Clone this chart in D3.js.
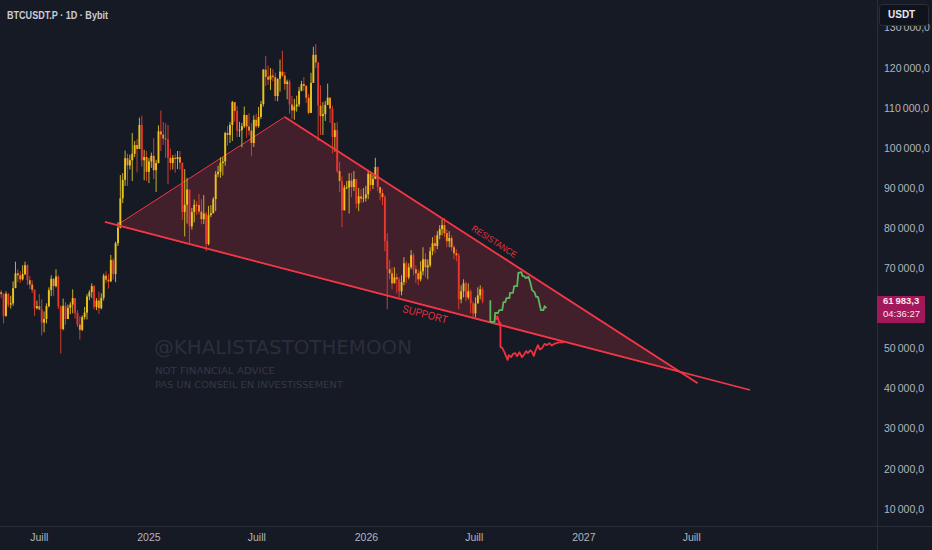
<!DOCTYPE html>
<html><head><meta charset="utf-8">
<script src="https://cdn.jsdelivr.net/npm/d3@7"></script>
<style>html,body{margin:0;padding:0;background:#161a25;overflow:hidden}</style>
</head><body><svg id="c" width="932" height="550"></svg>
<script>
// ---------- DATA ----------
const symbolTitle = "BTCUSDT.P · 1D · Bybit";
const currencyLabel = "USDT";
const candleStart = "2024-04-26";
const candleStepDays = 4;
const firstOpenK = 64.3;
const closeK = [63.8,58.3,63.9,61.2,61.5,65.3,69.0,68.5,67.5,68.8,71.0,67.3,66.2,64.9,60.3,60.8,60.0,56.7,57.6,60.8,
64.8,67.6,65.8,68.2,60.7,55.1,60.9,57.6,60.4,61.2,62.8,59.1,56.2,54.9,58.1,59.2,63.2,64.3,65.8,60.6,
62.2,60.3,62.9,68.4,67.4,67.0,72.3,68.8,76.5,80.4,87.7,92.3,97.7,95.9,97.2,98.8,101.0,100.0,106.0,97.2,
98.0,94.3,96.9,98.3,94.7,96.5,104.4,103.6,102.6,102.4,97.8,96.5,97.8,97.5,98.0,96.6,84.3,86.1,89.9,80.7,
84.3,86.1,86.0,84.4,82.5,83.9,76.3,83.5,84.0,87.5,93.7,94.3,96.5,96.9,104.0,103.5,106.0,111.7,109.5,104.6,
104.7,105.7,108.5,105.6,104.6,101.5,107.3,105.7,108.0,111.2,119.8,118.0,117.3,118.3,117.9,113.2,117.5,119.3,118.3,116.2,
116.8,111.1,109.6,110.6,111.1,114.5,116.2,115.7,112.8,109.0,116.5,123.5,121.6,110.8,108.2,108.7,111.0,112.8,110.1,103.0,
104.7,94.5,92.0,84.7,90.4,90.4,92.1,90.5,92.5,86.4,88.2,87.6,87.8,88.7,93.8,91.0,92.5,95.5,90.5,89.0,
88.0,77.0,70.0,69.0,66.5,68.0,67.5,64.5,66.8,71.5,68.0,70.5,73.5,70.0,69.0,67.5,69.5,72.5,70.5,71.0,
74.5,76.5,75.8,78.5,80.0,81.0,79.0,77.0,77.8,75.5,74.0,73.5,62.5,64.5,66.5,63.0,64.5,61.5,59.0,61.5,
63.5,65.0,62.0];
const highK = [64.8,64.0,64.5,64.0,63.4,67.0,71.9,70.0,69.5,71.0,71.9,71.2,68.3,67.2,65.0,62.2,63.8,62.5,59.5,61.5,
65.5,68.5,67.8,70.0,68.5,61.0,62.7,61.8,61.2,61.8,65.0,62.8,59.8,58.3,58.5,60.6,63.8,64.8,66.5,66.0,
62.8,64.4,64.0,68.9,69.5,68.8,73.6,72.7,76.9,81.8,93.5,94.0,99.6,98.8,98.6,104.0,102.0,102.5,107.8,108.3,
99.8,99.5,97.8,99.1,102.7,97.3,105.9,109.6,106.7,106.4,106.0,100.1,98.5,98.8,99.5,99.5,96.5,95.0,92.8,86.9,
85.3,87.4,87.0,88.8,87.5,88.5,84.3,85.8,86.0,88.0,94.5,95.8,97.9,97.9,104.3,105.8,106.7,112.0,111.3,110.7,
106.8,106.5,110.6,108.0,108.9,106.5,108.4,108.8,110.5,112.0,119.9,123.2,120.8,120.2,119.9,119.0,117.6,122.3,124.5,119.2,
117.3,117.3,113.2,112.5,113.3,115.5,117.0,117.9,116.0,113.7,119.0,125.5,126.2,121.5,115.9,111.7,112.0,116.3,111.3,110.8,
106.5,106.7,96.8,93.2,91.0,92.0,94.0,94.0,94.5,92.4,90.3,90.0,90.3,90.8,94.8,94.5,93.5,97.8,95.6,90.5,
90.0,88.5,79.0,72.3,70.5,70.5,69.0,68.0,68.5,73.0,72.0,71.5,74.8,74.0,71.0,70.0,72.0,75.5,74.0,72.5,
75.5,78.0,78.5,79.5,81.0,82.5,82.8,80.0,79.5,78.5,76.0,75.0,74.0,66.0,67.5,67.0,66.5,65.0,62.0,63.0,
65.5,66.0,65.5];
const lowK = [62.8,56.5,58.6,60.6,60.2,60.9,65.5,66.8,66.6,67.2,68.5,66.1,65.1,64.1,58.4,60.0,59.8,53.5,54.3,56.5,
60.5,63.3,63.4,65.5,60.1,49.0,54.8,56.2,57.8,58.8,59.0,57.7,55.6,52.5,54.6,57.5,57.5,62.3,62.8,60.0,
59.8,58.9,60.0,62.2,66.6,65.2,66.8,67.4,66.8,75.8,80.2,86.5,90.8,90.8,94.9,92.0,98.0,94.2,100.5,95.6,
92.2,92.0,91.5,95.3,92.5,89.3,96.4,99.5,101.0,97.8,91.2,94.7,94.9,94.1,95.0,94.8,82.3,78.2,81.4,76.6,
79.9,81.7,83.6,83.7,81.2,81.3,74.5,76.0,83.0,83.9,84.5,93.0,92.8,93.4,95.8,100.8,101.5,102.0,106.8,103.0,
103.0,100.4,105.2,102.8,103.4,98.2,100.5,105.1,105.3,107.5,110.6,115.7,116.0,114.7,116.9,112.0,111.9,114.3,118.0,114.7,
112.4,108.8,107.5,107.3,109.3,110.5,114.4,114.5,111.5,108.6,109.5,116.8,120.2,102.0,103.5,103.5,107.0,111.0,106.5,98.9,
99.3,94.0,89.3,80.5,85.3,90.0,83.9,88.0,89.5,85.2,84.5,86.5,86.7,86.9,87.5,89.5,90.0,92.5,89.5,87.2,
86.0,74.5,60.0,67.5,65.0,66.5,64.0,63.0,63.5,66.0,66.5,67.5,70.0,68.5,66.6,66.0,67.0,68.5,68.0,67.5,
70.5,73.5,74.0,75.0,77.5,78.5,78.0,75.5,75.5,74.5,72.5,72.0,60.0,61.5,63.0,62.0,62.5,59.0,58.0,58.0,
61.5,62.5,61.5];
const lastPrice = 61983.3;
const countdown = "04:36:27";
const yTicks = [10000,20000,30000,40000,50000,60000,70000,80000,90000,100000,110000,120000,130000];
const xTickDates = ["2024-07-01","2025-01-01","2025-07-01","2026-01-01","2026-07-01","2027-01-01","2027-07-01"];
const xTickLabels = ["Juill","2025","Juill","2026","Juill","2027","Juill"];
// projection paths [date, price in thousands]
const greenPath = [["2026-07-28",62.3],["2026-07-28",56.9],["2026-08-04",56.9],["2026-08-05",59.1],["2026-08-10",59.1],
["2026-08-12",59.8],["2026-08-17",59.8],["2026-08-19",61.8],["2026-08-22",61.8],["2026-08-24",62.8],["2026-08-29",62.8],
["2026-08-30",64.1],["2026-09-04",64.1],["2026-09-06",65.8],["2026-09-11",65.8],["2026-09-13",69.1],["2026-09-18",69.3],
["2026-09-20",68.3],["2026-09-23",68.3],["2026-09-25",67.8],["2026-09-30",68.1],["2026-10-03",66.8],["2026-10-06",64.8],
["2026-10-10",64.3],["2026-10-13",63.1],["2026-10-16",63.1],["2026-10-18",61.8],["2026-10-21",59.8],["2026-10-25",59.8],
["2026-10-27",60.8],["2026-10-30",60.3]];
const redPath = [["2026-08-04",58.6],["2026-08-07",57.6],["2026-08-09",58.3],["2026-08-12",56.6],["2026-08-14",56.6],
["2026-08-14",50.6],["2026-08-17",50.4],["2026-08-21",49.2],["2026-08-24",48.1],["2026-08-26",47.4],["2026-08-28",48.6],
["2026-09-01",48.1],["2026-09-04",48.9],["2026-09-08",49.1],["2026-09-11",48.3],["2026-09-15",49.3],["2026-09-19",48.1],
["2026-09-22",48.6],["2026-09-26",49.6],["2026-09-29",49.1],["2026-10-03",49.8],["2026-10-06",49.4],["2026-10-09",48.4],
["2026-10-12",49.8],["2026-10-16",51.1],["2026-10-19",50.0],["2026-10-23",50.4],["2026-10-27",51.4],["2026-10-31",51.1],
["2026-11-04",51.6],["2026-11-08",51.0],["2026-11-12",51.4],["2026-11-16",51.6],["2026-11-20",51.8],["2026-11-28",51.8]];
const supportLine = [["2024-10-19",81.8],["2027-10-07",39.9]];
const resistanceLine = [["2025-08-17",108.0],["2027-07-11",41.6]];
const trianglePts = [["2024-11-08",81.0],["2025-08-17",108.0],["2027-06-12",44.4]];
const resistanceLabel = {text:"RESISTANCE", date:"2026-08-03", price:76.8};
const supportLabel = {text:"SUPPORT", date:"2026-04-09", price:58.6};
const watermark = "@KHALISTASTOTHEMOON";
const disclaimer = ["NOT FINANCIAL ADVICE","PAS UN CONSEIL EN INVESTISSEMENT"];

// ---------- CHART ----------
const W = 932, H = 550, plotW = 877, plotH = 526;
const svg = d3.select("#c");
const pd = s => new Date(s + "T00:00:00Z");
const x = d3.scaleUtc().domain([pd("2024-04-26"), pd("2028-05-07")]).range([0, plotW]);
const y = d3.scaleLinear().domain([0, 137157]).range([H, 0]);
const DAY = 864e5;

svg.append("rect").attr("width", W).attr("height", H).attr("fill", "#161a25");
svg.append("defs").append("clipPath").attr("id","clip").append("rect").attr("width", plotW).attr("height", plotH);
const plot = svg.append("g").attr("clip-path","url(#clip)");

// watermark
plot.append("text").attr("x",154).attr("y",354).attr("font-family","DejaVu Sans, sans-serif").attr("font-size",20)
  .attr("textLength",258).attr("lengthAdjust","spacingAndGlyphs").attr("fill","#2a2e3a").text(watermark);
disclaimer.forEach((t,i)=>{
  plot.append("text").attr("x",155).attr("y",374+i*14).attr("font-family","DejaVu Sans, sans-serif").attr("font-size",9.5)
    .attr("textLength", i===0?120:188).attr("lengthAdjust","spacingAndGlyphs").attr("fill","#343845").text(t);
});

// triangle
const pt = d => [x(pd(d[0])), y(d[1]*1000)];
plot.append("path").attr("d", d3.line()(trianglePts.map(pt)) + "Z")
  .attr("fill","rgba(242,54,69,0.2)").attr("stroke","#f23645").attr("stroke-width",1);

// candles
const candles = closeK.map((c,i)=>{
  const o = i===0 ? firstOpenK : closeK[i-1];
  return {date:new Date(pd(candleStart).getTime() + (i*candleStepDays + candleStepDays/2)*DAY),
    o:o*1000, c:c*1000, h:Math.max(highK[i],o,c)*1000, l:Math.min(lowK[i],o,c)*1000};
});
const cg = plot.append("g");
candles.forEach(d=>{
  const cx = x(d.date);
  const up = d.c >= d.o;
  const bigDrop = !up && (d.o - d.c)/d.o > 0.04;
  const body = up ? "#ecc31c" : (bigDrop ? "#e8362f" : "#f5901e");
  const wick = up ? "#d6c42a" : "#e4412c";
  cg.append("line").attr("x1",cx).attr("x2",cx).attr("y1",y(d.h)).attr("y2",y(d.l)).attr("stroke",wick).attr("stroke-width",0.9);
  const y0 = y(Math.max(d.o,d.c)), y1 = y(Math.min(d.o,d.c));
  cg.append("rect").attr("x",cx-0.95).attr("width",1.9).attr("y",y0).attr("height",Math.max(0.8,y1-y0)).attr("fill",body);
});

// support / resistance
[supportLine, resistanceLine].forEach(l=>{
  plot.append("path").attr("d", d3.line()(l.map(pt))).attr("stroke","#f23645").attr("stroke-width",1.8).attr("fill","none");
});

// projections
const stepLine = d3.line();
plot.append("path").attr("d", stepLine(redPath.map(pt))).attr("stroke","#f2303f").attr("stroke-width",1.8).attr("fill","none").attr("stroke-linejoin","round");
plot.append("path").attr("d", stepLine(greenPath.map(pt))).attr("stroke","#5cb85c").attr("stroke-width",1.8).attr("fill","none").attr("stroke-linejoin","round");

// line labels
function lineAngle(l){ const a=pt(l[0]), b=pt(l[1]); return Math.atan2(b[1]-a[1], b[0]-a[0])*180/Math.PI; }
[[resistanceLabel, resistanceLine, 9, 52],[supportLabel, supportLine, 11, 46]].forEach(([lab, l, fs, len])=>{
  const p = [x(pd(lab.date)), y(lab.price*1000)];
  plot.append("text").attr("transform",`translate(${p[0]},${p[1]}) rotate(${lineAngle(l)})`)
    .attr("text-anchor","middle").attr("dominant-baseline","middle")
    .attr("font-family","Liberation Sans, Arial, sans-serif").attr("font-size",fs)
    .attr("textLength",len).attr("lengthAdjust","spacingAndGlyphs")
    .attr("fill","#e8303f").text(lab.text);
});

// title
svg.append("text").attr("x",7).attr("y",19).attr("font-family","Liberation Sans, Arial, sans-serif").attr("font-size",11)
  .attr("font-weight","bold").attr("textLength",101).attr("lengthAdjust","spacingAndGlyphs")
  .attr("fill","#c9ccd4").text(symbolTitle);

// axes panels
svg.append("line").attr("x1",plotW+0.5).attr("x2",plotW+0.5).attr("y1",0).attr("y2",H).attr("stroke","#2a2e39");
svg.append("line").attr("x1",0).attr("x2",W).attr("y1",plotH+0.5).attr("y2",plotH+0.5).attr("stroke","#2a2e39");

const yp = y(lastPrice);
const fmt = v => d3.format(",.1f")(v).replace(".","#").replace(/,/g,"\u2009").replace("#",",");
// ticks hidden behind the last-price label are not drawn
svg.append("g").selectAll("text").data(yTicks.filter(v => Math.abs(y(v) - (yp + 8)) > 18)).join("text")
  .attr("x",884).attr("y",d=>y(d)).attr("dominant-baseline","middle")
  .attr("font-family","Liberation Sans, Arial, sans-serif").attr("font-size",10.5).attr("fill","#b2b5be").text(fmt);

svg.append("g").selectAll("text").data(xTickDates).join("text")
  .attr("x",d=>x(pd(d))).attr("y",538).attr("text-anchor","middle").attr("dominant-baseline","middle")
  .attr("font-family","Liberation Sans, Arial, sans-serif").attr("font-size",10.5).attr("fill","#b2b5be")
  .text((d,i)=>xTickLabels[i]);

// currency box
svg.append("rect").attr("x",879.5).attr("y",4.5).attr("width",49).attr("height",21).attr("rx",3)
  .attr("fill","#10131b").attr("stroke","#2a2e39");
svg.append("text").attr("x",888).attr("y",15.5).attr("dominant-baseline","middle").attr("font-family","Liberation Sans, Arial, sans-serif")
  .attr("font-size",10).attr("font-weight","bold").attr("fill","#e6e8ee").text(currencyLabel);

// last price label
svg.append("rect").attr("x",877).attr("y",yp-5.5).attr("width",48).attr("height",27).attr("fill","#a3185a");
svg.append("text").attr("x",883).attr("y",yp+0.5).attr("dominant-baseline","middle").attr("font-family","Liberation Sans, Arial, sans-serif")
  .attr("font-size",9.5).attr("font-weight","bold").attr("fill","#fbe3ee").text(fmt(lastPrice));
svg.append("text").attr("x",883).attr("y",yp+13).attr("dominant-baseline","middle").attr("font-family","Liberation Sans, Arial, sans-serif")
  .attr("font-size",9.5).attr("fill","#fbe3ee").text(countdown);
</script></body></html>
